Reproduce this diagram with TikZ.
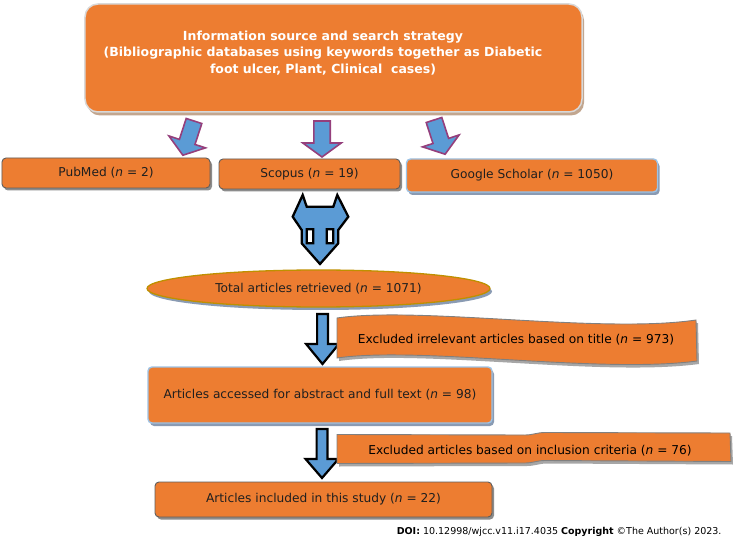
\documentclass[tikz,border=0pt]{standalone}
\usepackage{fontspec}
\setmainfont{DejaVu Sans}
\usetikzlibrary{shapes.geometric,shadows,positioning}
\definecolor{boxorange}{HTML}{ED7D31}
\definecolor{arrowblue}{HTML}{5B9BD5}
\definecolor{arrowplum}{HTML}{953F7C}
\definecolor{paleblue}{HTML}{9DC3E6}
\definecolor{slategrey}{HTML}{8A9BB3}
\definecolor{tanshadow}{HTML}{C2A68F}
\definecolor{goldline}{HTML}{BF9000}
\definecolor{darkline}{HTML}{5F5F5F}

% block arrow: length, shaft half width, head half width, head length
\tikzset{
    pics/blockarrow/.style n args={4}{code={
        \draw[pic actions] (-#2,0) -- (#2,0) -- (#2,#1-#4) -- (#3,#1-#4) -- (0,#1)
            -- (-#3,#1-#4) -- (-#2,#1-#4) -- cycle;
    }}
}

\begin{document}
\begin{tikzpicture}[
        x=1bp, y=-1bp,
        font=\fontsize{12.2bp}{14bp}\selectfont,
        card/.style={fill=boxorange, rounded corners=4bp, inner sep=0pt,
            align=center, text=black!88},
        greycard/.style={card, draw=darkline, line width=0.9bp,
            drop shadow={shadow xshift=2bp, shadow yshift=-2.5bp, fill=black!45, opacity=1}},
        bluecard/.style={card, draw=paleblue, line width=1.4bp,
            drop shadow={shadow xshift=2bp, shadow yshift=-3bp, fill=slategrey, opacity=1}},
        banner/.style={draw=gray, line width=0.9bp, fill=boxorange,
            drop shadow={shadow xshift=2bp, shadow yshift=-3bp, fill=black!35, opacity=1}},
        plumarrow/.style={draw=arrowplum, line width=1.6bp, fill=arrowblue, line join=miter},
        downarrow/.style={draw=black, line width=2.2bp, fill=arrowblue, line join=miter}
    ]
    \useasboundingbox[fill=white] (0,0) rectangle (733,539);

    % search strategy
    \node[card, draw=gray!30, line width=1.5bp, rounded corners=13bp,
        minimum width=497bp, minimum height=108bp,
        drop shadow={shadow xshift=2bp, shadow yshift=-3.5bp, fill=tanshadow, opacity=1}]
        (source) at (333.5,58) {};
    \node[text=white, align=center, font=\bfseries\fontsize{12.5bp}{16.3bp}\selectfont]
        (sourcetext) at (323,53)
        {Information source and search strategy\\
        (Bibliographic databases using keywords together as Diabetic\\
        foot ulcer, Plant, Clinical~ cases)};

    % databases
    \node[greycard, minimum width=208bp, minimum height=30bp] (pubmed) at (106,173)
        {PubMed (\textit{n} = 2)};
    \node[greycard, minimum width=181bp, minimum height=30bp] (scopus) at (309.5,174)
        {Scopus (\textit{n} = 19)};
    \node[bluecard, minimum width=251bp, minimum height=33bp] (scholar) at (532,175.5)
        {Google Scholar (\textit{n} = 1050)};

    \pic[plumarrow, rotate=-18] (topleft) at (194,121) {blockarrow={36}{8.2}{19.2}{14}};
    \pic[plumarrow] (topmid) at (322,121) {blockarrow={36}{8.2}{19.2}{14}};
    \pic[plumarrow, rotate=18] (topright) at (434,120) {blockarrow={36}{8.2}{19.2}{14}};

    % merge arrow
    \draw[line width=2.3bp, fill=arrowblue, line join=miter, even odd rule]
        (302.7,195) -- (292.7,216.7) -- (301.7,230) -- (301.7,243.3) -- (320,264)
        -- (338.3,243.3) -- (338.3,230) -- (348.3,216.7) -- (337.3,195)
        -- (333.3,206.7) -- (306.7,206.7) -- cycle
        (306.7,229.3) rectangle (313.3,243.3)
        (326.7,229.3) rectangle (333.3,243.3);

    \node[ellipse, fill=boxorange, draw=goldline, line width=1.3bp, inner sep=0pt,
        minimum width=343bp, minimum height=37bp, text=black!88,
        drop shadow={shadow xshift=2bp, shadow yshift=-3bp, fill=slategrey, opacity=1}]
        (total) at (318.5,288.5) {Total articles retrieved (\textit{n} = 1071)};

    % screening
    \pic[downarrow] (down1) at (322.5,314) {blockarrow={50}{5.4}{16.4}{20}};
    \draw[banner] (337,318) .. controls (420,306) and (600,334) .. (696,320)
        -- (697,361) .. controls (600,374) and (420,346) .. (337,358) -- cycle;
    \node (excl1) at (516,340) {Excluded irrelevant articles based on title (\textit{n} = 973)};

    \node[bluecard, minimum width=344bp, minimum height=56bp] (accessed) at (320,395)
        {Articles accessed for abstract and full text (\textit{n} = 98)};

    \pic[downarrow] (down2) at (322,429) {blockarrow={49}{5.4}{16.4}{19}};
    \draw[banner] (337,434.5) -- (525,435) .. controls (533,435) and (537,432.5) .. (545,432.5)
        -- (730,433) -- (731,461.5) -- (545,460.5) .. controls (537,460.5) and (533,463) .. (525,463)
        -- (337,463.5) -- cycle;
    \node (excl2) at (530,451) {Excluded articles based on inclusion criteria (\textit{n} = 76)};

    \node[greycard, minimum width=337bp, minimum height=35bp] (included) at (323.5,499.5)
        {Articles included in this study (\textit{n} = 22)};

    \node[anchor=east, font=\fontsize{9.5bp}{11bp}\selectfont] (doi) at (725,532)
        {\textbf{DOI:} 10.12998/wjcc.v11.i17.4035 \textbf{Copyright} ©The Author(s) 2023.};
\end{tikzpicture}
\end{document}
